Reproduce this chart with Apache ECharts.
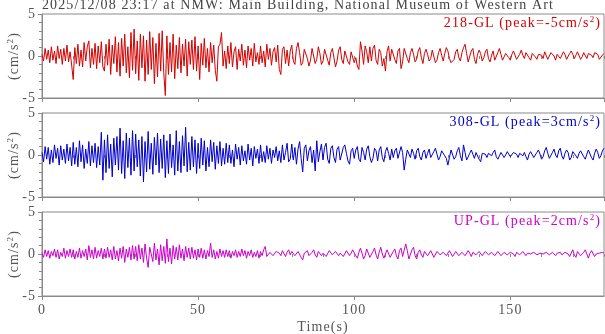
<!DOCTYPE html>
<html><head><meta charset="utf-8">
<script src="https://cdn.jsdelivr.net/npm/echarts@6/dist/echarts.min.js"></script>
<style>html,body{margin:0;padding:0;background:#fff}#c{width:605px;height:334px}</style>
</head><body><div id="c"></div>
<script>
const titleText = '2025/12/08 23:17 at NMW: Main Building, National Museum of Western Art';
const channelNames = ['218-GL', '308-GL', 'UP-GL'];
const peakLabels = ['-5', '3', '2'];
const xTickLabels = ['0', '50', '100', '150'];
const dt = 0.5; // seconds between samples
const ch218 = [
0.2,-0.6,0.9,-0.4,0.7,-0.8,1.1,-0.5,0.6,-0.9,1.2,-0.3,0.8,-1.0,0.9,-0.6,1.3,-0.7,0.5,-1.1,
-2.8,1.0,-0.9,1.4,-1.2,0.7,-1.3,1.6,-0.6,1.1,1.8,-1.4,0.9,-1.0,1.5,-1.5,1.2,-0.8,1.7,-1.3,
-1.8,1.4,-1.1,2.0,-2.2,1.3,-0.9,2.3,-1.9,1.6,-2.4,2.1,-1.2,2.6,-2.0,1.1,-2.6,2.8,-1.7,3.2,
-2.1,1.8,-2.9,2.6,-1.4,2.4,-3.0,1.9,-2.2,2.9,-1.6,2.2,-3.3,1.5,-2.5,2.7,-1.8,3.0,-2.0,-4.7,
2.4,-2.2,1.6,-1.9,2.6,-2.7,1.3,-1.5,2.2,-2.0,1.4,-1.2,2.0,-2.4,1.7,-1.0,1.9,-1.6,2.3,-1.8,
1.2,-2.8,1.5,-1.1,2.1,-1.4,0.9,-1.9,1.6,-0.8,1.3,-1.7,-3.0,1.1,1.4,2.8,-1.2,0.6,-1.5,1.2,
-0.9,1.6,-1.3,0.5,1.1,-1.6,0.8,-0.6,1.4,-1.1,0.7,-1.4,1.2,-0.5,0.9,-1.2,1.5,-0.7,0.4,-1.0,
1.2,-0.8,0.6,-1.3,1.4,-0.4,0.9,-1.1,0.5,1.0,-0.7,1.3,-1.6,-2.2,0.8,1.1,-0.9,0.7,-1.2,0.6,
1.3,-0.6,-1.0,0.9,1.6,0.4,-1.1,-0.8,0.8,1.0,-0.3,-1.2,-0.5,0.9,0.7,-0.9,-0.4,1.1,0.3,-1.0,
-0.6,0.8,1.0,-0.5,-1.1,0.4,0.9,-0.2,-1.3,-0.6,0.7,1.1,-0.4,-0.9,0.6,0.8,-0.7,-1.0,0.5,0.3,
-0.8,-0.2,-1.2,-1.6,1.7,0.6,-1.0,1.2,0.5,-0.8,1.1,-0.6,0.9,1.3,-0.5,-1.0,0.8,0.4,-1.2,-0.3,
-1.8,0.5,1.2,-0.6,0.8,1.0,-0.4,-0.9,0.6,0.9,-1.5,-0.7,0.9,1.1,-0.3,-0.8,0.4,0.9,0.2,-0.7,
-0.4,0.6,1.0,-0.2,-0.9,0.3,0.8,0.2,-0.6,-0.3,0.7,0.5,-0.8,-0.5,0.4,0.9,0.1,-0.6,0.3,1.0,
0.6,-0.3,-0.8,-1.0,-0.4,0.5,0.8,-0.2,-0.6,0.4,1.0,1.4,0.3,-0.7,-0.5,0.6,0.9,-0.4,-0.9,0.2,
0.7,0.3,-0.6,-0.2,0.5,0.8,-0.3,-0.7,0.1,0.6,-0.5,-0.4,0.4,0.9,0.2,-0.5,-0.6,0.3,0.5,-0.2,
-0.5,0.2,0.6,0.4,-0.4,-0.6,0.2,0.7,0.1,-0.3,0.4,0.6,-0.2,-0.5,0.3,0.5,-0.1,-0.4,0.2,0.4,
0.1,-0.3,0.5,0.3,-0.4,-0.2,0.4,0.6,0.0,-0.5,0.2,0.4,-0.3,0.1,0.5,0.2,-0.4,-0.2,0.3,0.6,
0.2,-0.3,0.1,0.5,0.3,-0.4,-0.1,0.4,0.2,-0.3,0.3,0.5,0.1,-0.2,0.4,0.6,0.2,-0.4,-0.3,0.1,0.3
];
const ch308 = [
0.3,-0.8,1.0,-0.5,0.9,-1.1,0.6,-0.9,1.2,-0.4,0.8,-1.2,1.1,-0.6,0.7,-1.0,1.3,-0.7,0.9,-1.3,
1.5,-1.1,0.9,-1.4,1.7,-0.8,1.2,-1.6,0.7,-1.0,1.6,-1.3,1.1,-0.9,1.4,-1.5,1.0,-1.2,2.7,-3.0,
1.8,-2.1,2.4,-1.6,1.3,-2.6,2.0,-1.2,2.2,-1.8,3.2,-2.2,1.7,-2.8,2.6,-1.5,2.0,-2.4,2.9,-1.9,
2.5,-1.4,1.8,-2.5,2.2,-3.2,1.6,-2.0,2.8,-1.7,1.4,-2.3,2.1,-1.2,2.6,-2.1,1.9,-1.6,2.4,-2.7,
1.7,-2.2,2.5,-1.5,1.2,-2.4,2.9,-1.9,1.6,-2.1,2.3,-1.3,3.3,-2.0,1.5,-1.8,2.2,-1.4,1.8,-2.2,
1.4,-1.6,2.0,-1.2,1.7,-1.9,0.9,-1.4,1.8,-0.8,1.5,-1.7,1.1,-1.0,1.6,-1.3,0.8,-1.1,1.4,-0.9,
1.2,-1.0,0.6,-1.4,1.3,-0.5,0.9,-1.2,1.1,-0.7,0.5,-1.1,1.3,-0.6,0.8,-1.3,1.0,-0.4,0.7,-1.0,
1.2,-0.8,0.4,-0.9,1.1,-0.5,0.8,-1.0,0.6,-0.3,1.0,-0.7,0.5,-0.9,1.2,-0.6,0.3,1.4,-0.8,-0.5,
1.3,-0.6,0.9,-1.1,0.7,1.6,-0.4,-2.0,0.8,1.2,-0.7,0.5,1.0,-0.9,0.6,-1.9,1.7,-0.8,0.4,1.3,
-0.6,0.9,1.4,-0.5,-1.0,0.8,1.1,-0.3,-0.9,0.7,1.0,-0.6,-0.8,0.9,1.2,0.2,-0.7,-1.1,0.5,0.8,
-0.4,0.6,1.0,-0.5,-0.8,0.9,0.3,-0.6,0.7,1.1,-0.2,-0.9,-0.4,0.8,0.5,-0.7,0.6,1.0,-0.3,-0.8,
0.4,0.9,0.2,-0.6,0.7,-0.3,0.5,0.8,-0.4,-0.6,1.0,0.3,-1.8,-0.5,0.6,0.4,-0.3,0.7,0.2,-0.5,
0.5,0.8,-0.2,-0.6,0.3,0.6,-0.4,0.2,0.7,-0.3,-0.5,0.4,0.8,0.1,-0.6,-0.2,0.5,0.7,-0.1,-0.4,
-1.2,-0.3,0.6,0.4,-0.5,-0.2,0.5,0.9,-0.1,-0.7,1.2,0.3,-0.6,-0.8,0.2,0.6,0.1,-0.4,0.3,0.5,
-0.5,-0.8,0.2,0.4,0.1,-0.3,0.2,0.3,-0.1,0.3,0.6,-0.2,-0.5,-0.1,0.3,0.2,-0.3,0.0,0.4,0.2,
-0.2,-0.4,0.3,0.5,0.1,-0.3,0.2,0.4,-0.1,0.3,-0.2,-0.6,0.1,0.4,0.2,-0.3,-0.1,0.3,0.6,0.1,
-0.5,-0.2,0.5,0.9,0.2,-0.4,-0.6,0.3,0.7,0.0,-0.3,0.5,0.8,-0.1,-0.5,0.2,0.6,0.3,-0.6,-0.3,
0.4,0.6,-0.1,-0.4,0.2,0.5,0.3,-0.2,-0.5,0.1,0.6,0.4,-0.3,-0.6,0.2,0.7,0.3,-0.4,-0.1,0.5,0.8
];
const chUP = [
0.1,-0.4,0.5,-0.3,0.4,-0.5,0.3,-0.2,0.6,-0.4,0.5,-0.6,0.2,-0.3,0.7,-0.5,0.4,-0.3,0.6,-0.4,
0.5,-0.6,0.3,-0.4,0.7,-0.5,0.4,-0.3,0.6,-0.7,1.0,-0.4,0.5,-0.6,0.8,-0.5,0.4,-0.3,0.7,-0.6,
0.6,-0.5,0.8,-0.4,0.5,-0.7,0.9,-0.6,0.4,-0.8,0.7,-0.5,0.9,-1.0,0.6,-0.4,0.8,-0.7,1.0,-0.6,
0.9,-0.8,1.1,-0.6,0.7,-1.0,1.2,-0.5,-1.6,0.8,1.0,-0.9,1.3,-0.7,0.6,-1.3,1.1,-0.8,0.9,-1.1,
1.8,-0.9,0.7,-1.2,1.0,-0.6,0.8,-0.7,1.1,-0.5,0.6,-0.8,0.9,-0.4,0.7,-0.6,0.8,-0.5,0.5,-0.7,
0.6,-0.4,0.7,-0.5,0.5,-0.6,0.4,-0.3,1.3,-0.4,0.5,-0.6,0.3,-0.5,0.6,-0.3,0.4,-0.4,0.5,-0.3,
0.4,-0.5,0.3,-0.2,0.5,-0.4,0.3,-0.3,0.6,-0.2,0.4,-0.5,0.3,-0.2,0.5,-0.4,0.2,-0.3,0.4,-0.5,
0.3,-0.2,0.5,0.9,-0.3,-0.4,0.2,0.4,-0.2,-0.3,0.3,0.5,0.1,-0.2,0.4,0.3,-0.3,0.2,0.5,-0.1,
0.3,0.4,-0.2,-0.1,0.3,0.2,-0.4,-0.7,0.1,0.3,0.4,-0.2,-0.3,0.2,0.5,-0.1,-0.4,0.3,0.2,-0.2,
0.1,0.3,-0.3,-0.2,0.4,0.2,-0.1,-0.3,0.3,0.4,-0.2,0.1,0.3,-0.3,-0.1,0.4,0.2,-0.2,0.1,0.5,
0.6,-0.2,-0.5,0.2,0.7,0.1,-0.6,-0.2,0.6,0.5,-0.4,-0.5,0.3,0.7,-0.1,-0.6,0.2,0.8,0.0,-0.5,
-0.3,0.5,0.6,-0.4,-0.5,0.3,0.6,-0.2,-0.6,0.4,0.7,-0.3,-0.4,1.2,0.4,-0.6,-0.5,0.5,0.8,-0.2,
-0.6,0.2,0.5,-0.1,-0.4,0.3,0.4,-0.2,-0.3,0.4,0.3,-0.4,-0.2,0.3,0.5,-0.1,-0.3,0.2,0.4,-0.2,
-0.3,0.4,0.2,-0.3,-0.1,0.3,0.5,-0.2,-0.3,0.2,0.3,-0.2,-0.1,0.4,0.1,-0.3,0.2,0.3,-0.1,-0.2,
0.3,0.2,-0.2,-0.3,0.3,0.4,-0.1,-0.3,0.2,0.3,-0.2,0.0,0.3,0.1,-0.2,-0.1,0.2,0.3,-0.1,-0.2,
0.2,0.3,0.0,-0.3,0.2,0.4,-0.1,-0.2,0.3,0.1,-0.2,0.1,0.3,0.0,-0.2,0.2,0.3,-0.1,-0.2,0.1,
0.3,0.0,-0.2,0.2,0.3,-0.1,-0.1,0.2,0.1,-0.2,0.1,0.3,0.2,-0.1,-0.3,0.2,0.4,0.0,-0.3,0.1,
0.5,-0.1,-0.4,0.3,0.5,-0.2,-0.4,0.2,0.5,0.0,-0.5,0.1,0.4,0.2,-0.3,0.0,0.2,0.1,0.1,0.2,0.1
];
const channels = [ch218, ch308, chUP];
const colors = ['#d40000', '#0000cc', '#cc00cc'];
const FONT = '"Liberation Serif", "Times New Roman", serif';
const GRAY = '#555';
const AX = '#8a8a8a';
const tops = [14, 113, 212];
const H = 84;
const LS = '1.1px'; // reference text is rendered with wide letter spacing

// draw and measure text with the same letter spacing
const origFillText = CanvasRenderingContext2D.prototype.fillText;
CanvasRenderingContext2D.prototype.fillText = function () {
  this.letterSpacing = LS;
  return origFillText.apply(this, arguments);
};
const mctx = document.createElement('canvas').getContext('2d');
mctx.letterSpacing = LS;
if (echarts.setPlatformAPI) {
  echarts.setPlatformAPI({measureText: function (text, font) {
    mctx.font = font || '12px sans-serif';
    return mctx.measureText(text);
  }});
}

const grids = [], xAxes = [], yAxes = [], series = [], titles = [];
titles.push({text: titleText, left: 42, top: -2, padding: 0,
  textStyle: {fontFamily: FONT, fontSize: 14, fontWeight: 'normal', color: '#444'}});
for (let i = 0; i < 3; i++) {
  grids.push({left: 42, right: 1, top: tops[i], height: H, containLabel: false, outerBoundsMode: 'none',
    show: true, borderColor: AX, borderWidth: 1, backgroundColor: 'transparent'});
  const last = i === 2;
  xAxes.push({gridIndex: i, type: 'value', min: 0, max: 180, interval: 50,
    axisLine: {show: true, onZero: false, lineStyle: {color: AX}},
    axisTick: {show: true, inside: false, length: 4, lineStyle: {color: AX}},
    axisLabel: {show: last, showMaxLabel: false, margin: 7, color: GRAY, fontFamily: FONT, fontSize: 14,
      formatter: v => xTickLabels[Math.round(v / 50)] || ''},
    splitLine: {show: false},
    name: last ? 'Time(s)' : '', nameLocation: 'middle', nameGap: 24, nameMoveOverlap: false,
    nameTextStyle: {color: GRAY, fontFamily: FONT, fontSize: 14}});
  xAxes.push({gridIndex: i, type: 'value', min: 0, max: 180, interval: 10,
    axisLine: {show: false}, axisTick: {show: true, inside: true, length: 3, lineStyle: {color: AX}},
    axisLabel: {show: false}, splitLine: {show: false}});
  yAxes.push({gridIndex: i, type: 'value', min: -5, max: 5, interval: 5,
    axisLine: {show: true, onZero: false, lineStyle: {color: AX}},
    axisTick: {show: true, inside: false, length: 4, lineStyle: {color: AX}},
    axisLabel: {margin: 6, color: GRAY, fontFamily: FONT, fontSize: 14},
    splitLine: {show: false},
    name: '(cm/s{sup|2})', nameLocation: 'middle', nameGap: 19, nameRotate: 90, nameMoveOverlap: false,
    nameTextStyle: {color: GRAY, fontFamily: FONT, fontSize: 14,
      rich: {sup: {color: GRAY, fontFamily: FONT, fontSize: 9, padding: [0, 0, 7, 0]}}}});
  yAxes.push({gridIndex: i, type: 'value', min: -5, max: 5, interval: 1,
    axisLine: {show: false}, axisTick: {show: true, inside: true, length: 3, lineStyle: {color: AX}},
    axisLabel: {show: false}, splitLine: {show: false}});
  series.push({type: 'line', xAxisIndex: 2 * i, yAxisIndex: 2 * i, showSymbol: false, symbol: 'none',
    animation: false, lineStyle: {color: colors[i], width: 1}, silent: true,
    data: channels[i].map((v, k) => [k * dt, v])});
  titles.push({text: channelNames[i] + ' (peak=' + peakLabels[i] + 'cm/s{sup|2})',
    right: 4, top: tops[i] + 1, padding: 0,
    textStyle: {fontFamily: FONT, fontSize: 14, fontWeight: 'normal', color: colors[i],
      rich: {sup: {color: colors[i], fontFamily: FONT, fontSize: 9, padding: [0, 0, 7, 0]}}}});
}
const chart = echarts.init(document.getElementById('c'), null, {renderer: 'canvas'});
chart.setOption({animation: false, backgroundColor: '#fff', title: titles, grid: grids, xAxis: xAxes, yAxis: yAxes, series: series});
</script></body></html>
